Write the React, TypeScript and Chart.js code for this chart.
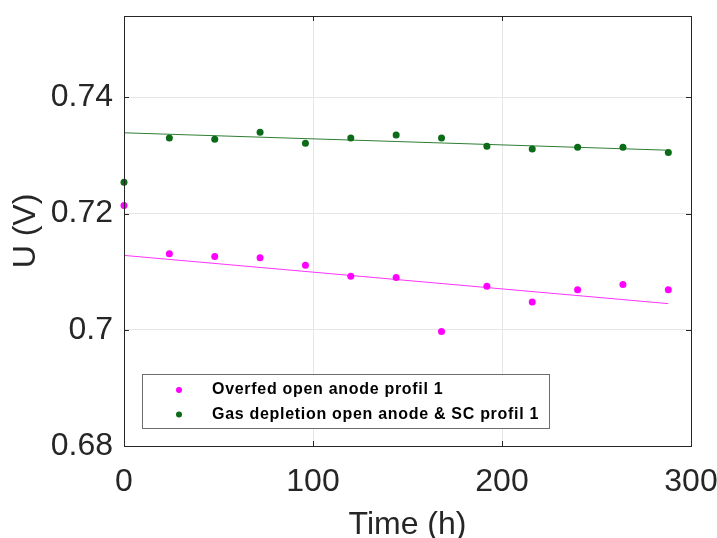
import React, { useEffect, useRef } from "react";
import { Chart, registerables } from "chart.js";

Chart.register(...registerables);

const timeHours = [0, 24, 48, 72, 96, 120, 144, 168, 192, 216, 240, 264, 288];
const overfed = [0.7214, 0.7131, 0.7126, 0.7124, 0.7111, 0.7092, 0.709, 0.6997, 0.7075, 0.7048, 0.7069, 0.7078, 0.7069];
const gasDepletion = [0.7254, 0.733, 0.7328, 0.734, 0.7321, 0.733, 0.7335, 0.733, 0.7316, 0.7311, 0.7314, 0.7314, 0.7305];
const fitTime = [0, 288];
const overfedFit = [0.7128, 0.7045];
const gasFit = [0.7339, 0.7309];
const xTicks = [0, 100, 200, 300];
const yTicks = [0.68, 0.7, 0.72, 0.74];
const legendLabels = ["Overfed open anode profil 1", "Gas depletion open anode & SC profil 1"];

const MAGENTA = "#ff00ff";
const GREEN = "#0b6b16";
const AXIS = "#262626";
const FONT = "'Liberation Sans', Arial, sans-serif";

const boxPlugin = {
  id: "matlabBox",
  afterDraw(chart: any) {
    const { ctx, chartArea: a, scales } = chart;
    ctx.save();
    ctx.strokeStyle = AXIS;
    ctx.lineWidth = 1;
    ctx.strokeRect(Math.round(a.left) + 0.5, Math.round(a.top) + 0.5, Math.round(a.right - a.left), Math.round(a.bottom - a.top));
    const tl = 5;
    ctx.beginPath();
    for (const v of xTicks) {
      const x = Math.round(scales.x.getPixelForValue(v)) + 0.5;
      ctx.moveTo(x, a.bottom);
      ctx.lineTo(x, a.bottom - tl);
      ctx.moveTo(x, a.top);
      ctx.lineTo(x, a.top + tl);
    }
    for (const v of yTicks) {
      const y = Math.round(scales.y.getPixelForValue(v)) + 0.5;
      ctx.moveTo(a.left, y);
      ctx.lineTo(a.left + tl, y);
      ctx.moveTo(a.right, y);
      ctx.lineTo(a.right - tl, y);
    }
    ctx.stroke();

    // legend box
    const lx = 142.5, ly = 374.5, lw = 407, lh = 54;
    ctx.fillStyle = "#ffffff";
    ctx.fillRect(lx, ly, lw, lh);
    ctx.strokeStyle = "#6e6e6e";
    ctx.strokeRect(lx, ly, lw, lh);
    const colors = [MAGENTA, GREEN];
    ctx.font = `bold 16px ${FONT}`;
    try { (ctx as any).letterSpacing = "0.7px"; } catch (e) {}
    ctx.textBaseline = "middle";
    ctx.textAlign = "left";
    legendLabels.forEach((t, i) => {
      const cy = 390 + i * 24.5;
      ctx.fillStyle = colors[i];
      ctx.beginPath();
      ctx.arc(179, cy, 3, 0, Math.PI * 2);
      ctx.fill();
      ctx.fillStyle = "#000000";
      ctx.fillText(t, 212, cy);
    });
    try { (ctx as any).letterSpacing = "0px"; } catch (e) {}
    ctx.restore();
  },
};

const zeroPad = (s: any) => {
  s.paddingTop = 0;
  s.paddingBottom = 0;
  s.paddingLeft = 0;
  s.paddingRight = 0;
};

export default function App() {
  const ref = useRef<HTMLCanvasElement | null>(null);
  useEffect(() => {
    if (!ref.current) return;
    const chart = new Chart(ref.current, {
      type: "scatter",
      data: {
        datasets: [
          {
            label: legendLabels[0],
            data: timeHours.map((t, i) => ({ x: t, y: overfed[i] })),
            backgroundColor: MAGENTA,
            borderColor: MAGENTA,
            pointRadius: 3.5,
            borderWidth: 0,
            clip: false,
          } as any,
          {
            label: legendLabels[1],
            data: timeHours.map((t, i) => ({ x: t, y: gasDepletion[i] })),
            backgroundColor: GREEN,
            borderColor: GREEN,
            pointRadius: 3.5,
            borderWidth: 0,
            clip: false,
          } as any,
          {
            label: "fit1",
            data: fitTime.map((t, i) => ({ x: t, y: overfedFit[i] })),
            showLine: true,
            borderColor: "#ff33ff",
            borderWidth: 1,
            pointRadius: 0,
          } as any,
          {
            label: "fit2",
            data: fitTime.map((t, i) => ({ x: t, y: gasFit[i] })),
            showLine: true,
            borderColor: "#2f7d33",
            borderWidth: 1,
            pointRadius: 0,
          } as any,
        ],
      },
      options: {
        animation: false,
        responsive: false,
        maintainAspectRatio: false,
        layout: { padding: { top: 16, right: 26, left: 0, bottom: 0 } },
        plugins: { legend: { display: false }, tooltip: { enabled: false } },
        scales: {
          x: {
            type: "linear",
            min: 0,
            max: 300,
            afterFit: (s: any) => { s.height = 92; zeroPad(s); },
            afterBuildTicks: (s: any) => { s.ticks = xTicks.map((v) => ({ value: v })); },
            ticks: {
              font: { size: 32, family: FONT },
              color: AXIS,
              padding: 17,
              maxRotation: 0,
              callback: (v: any) => String(v),
            },
            grid: { color: "#e6e6e6", drawTicks: false },
            border: { display: false },
            title: {
              display: true,
              text: "Time (h)",
              font: { size: 32, family: FONT },
              color: AXIS,
              padding: { top: 0, bottom: -6 },
            },
          },
          y: {
            type: "linear",
            min: 0.68,
            max: 0.754,
            afterFit: (s: any) => { s.width = 124; zeroPad(s); },
            afterBuildTicks: (s: any) => { s.ticks = yTicks.map((v) => ({ value: v })); },
            ticks: {
              font: { size: 32, family: FONT },
              color: AXIS,
              padding: 11,
              callback: (v: any) => String(Math.round(v * 100) / 100),
            },
            grid: { color: "#e6e6e6", drawTicks: false },
            border: { display: false },
            title: {
              display: true,
              text: "U (V)",
              font: { size: 32, family: FONT },
              color: AXIS,
              padding: { top: 7, bottom: 0 },
            },
          },
        },
      } as any,
      plugins: [boxPlugin],
    });
    return () => chart.destroy();
  }, []);
  return (
    <div style={{ position: "fixed", left: 0, top: 0, width: 717, height: 538, background: "#fff" }}>
      <canvas ref={ref} width={717} height={538} />
    </div>
  );
}
